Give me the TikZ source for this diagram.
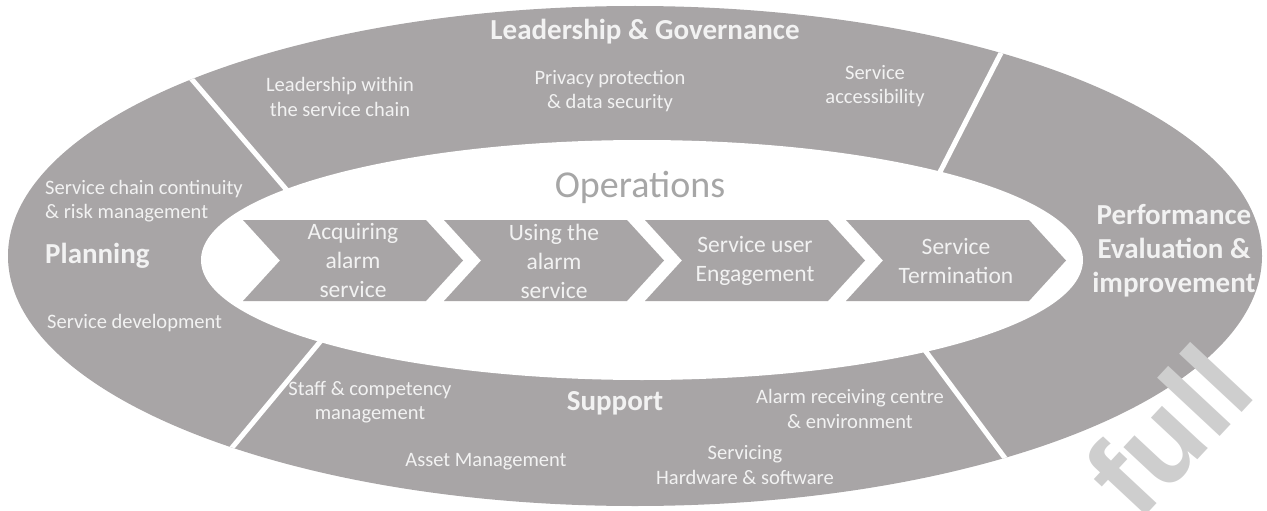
\documentclass[tikz,border=0pt]{standalone}
\usepackage{fontspec}
\setmainfont{Carlito}
\newfontfamily\markfont{Liberation Sans}

\definecolor{ringgrey}{RGB}{168,165,166}
\definecolor{ringwhite}{RGB}{242,242,242}
\definecolor{opsgrey}{RGB}{166,166,166}
\definecolor{markgrey}{RGB}{206,206,206}

\newcommand*{\chevx}{243}
\newcommand*{\chevstep}{201}
\newcommand*{\chevtop}{220}

\begin{document}
\begin{tikzpicture}
[
	x=1pt,
	y=-1pt,
	ringtext/.style={text=ringwhite,align=center,inner sep=0pt,font=\fontsize{20.5}{24.5}\selectfont},
	headtext/.style={text=ringwhite,align=center,inner sep=0pt,font=\bfseries\fontsize{29}{34}\selectfont},
	chevtext/.style={text=ringwhite,align=center,inner sep=0pt,font=\fontsize{23.5}{29}\selectfont},
	divider/.style={white,line width=5pt}
]

	\useasboundingbox (0,0) rectangle (1267,511);
	\clip (0,0) rectangle (1267,511);

	% outer ring
	\fill[ringgrey] (635,256) ellipse [x radius=627, y radius=250];

	% dividers
	\begin{scope}
		\clip (635,256) ellipse [x radius=627, y radius=250];
		\foreach \ax/\ay/\bx/\by in {159/41/321/230, 1023/10/919/213, 349/307/196/491, 898/314/1042/508} {
			\draw[divider] (\ax,\ay) -- (\bx,\by);
		}
	\end{scope}

	% inner field
	\fill[white] (642,260) ellipse [x radius=441, y radius=120];

	% chevrons
	\foreach \i/\nm/\txt in {0/acquire/{Acquiring\\alarm\\service}, 1/using/{Using the\\alarm\\service}, 2/engage/{Service user\\Engagement}, 3/term/{Service\\Termination}} {
		\pgfmathsetmacro{\chevl}{\chevx+\i*\chevstep}
		\fill[ringgrey] (\chevl,\chevtop) -- ++(183,0) -- ++(37,40.5) -- ++(-37,40.5) -- ++(-183,0) -- ++(37,-40.5) -- cycle;
		\node[chevtext] (\nm) at (\chevl+110,261) {\txt};
	}

	\node[text=opsgrey,inner sep=0pt,font=\fontsize{38}{40}\selectfont] (ops) at (640,187) {Operations};

	% leadership & governance
	\node[headtext] (lead) at (645,32) {Leadership \& Governance};
	\node[ringtext] (chain) at (340,97) {Leadership within\\the service chain};
	\node[ringtext] (privacy) at (610,91) {Privacy protection\\\& data security};
	\node[ringtext] (access) at (875,86) {Service\\accessibility};

	% planning
	\node[ringtext,align=left,anchor=west] (continuity) at (45,201) {Service chain continuity\\\& risk management};
	\node[headtext,anchor=west] (planning) at (45,256) {Planning};
	\node[ringtext,anchor=west] (develop) at (47,323) {Service development};

	% performance
	\node[headtext] (perf) at (1174,251) {Performance\\Evaluation \&\\improvement};

	% support
	\node[headtext] (support) at (615,403) {Support};
	\node[ringtext] (staff) at (370,402) {Staff \& competency\\management};
	\node[ringtext] (asset) at (486,462) {Asset Management};
	\node[ringtext] (receiving) at (850,409) {Alarm receiving centre\\\& environment};
	\node[ringtext] (servicing) at (745,465) {Servicing\\Hardware \& software};

	% watermark
	\node[text=markgrey,rotate=47,anchor=base west,inner sep=0pt,font=\markfont\bfseries\fontsize{118}{118}\selectfont] (mark) at (1138,524) {full};

\end{tikzpicture}
\end{document}
